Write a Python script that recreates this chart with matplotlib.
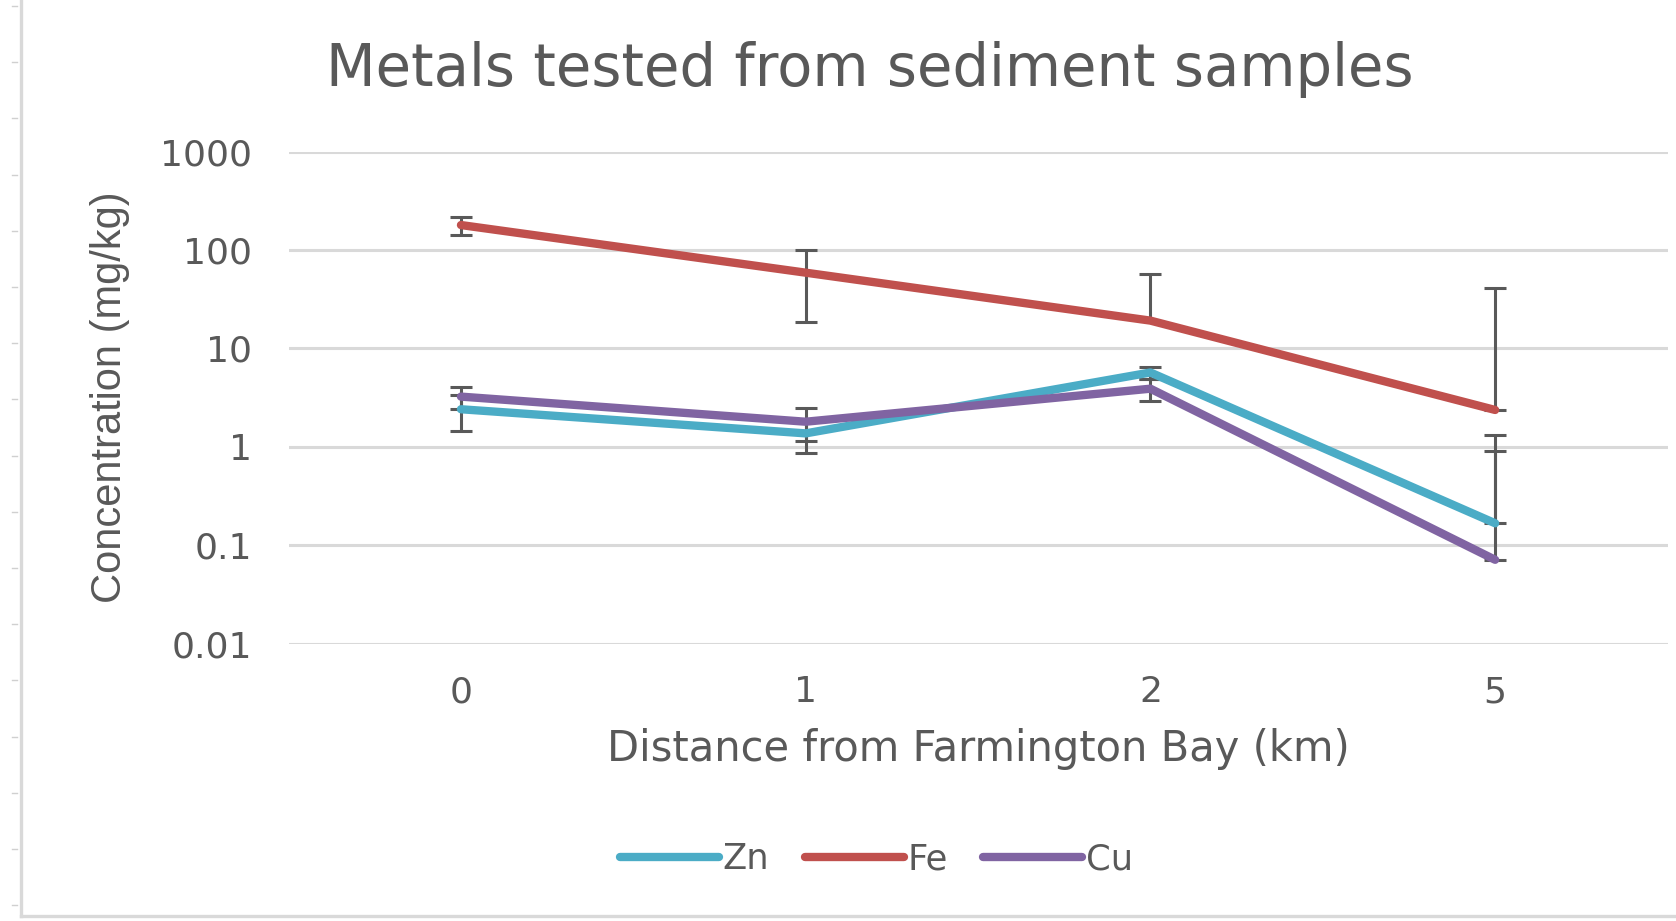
import numpy as np
import matplotlib
matplotlib.use("Agg")
import matplotlib.pyplot as plt
from matplotlib.lines import Line2D

# ---- data ----
distance_labels = ['0', '1', '2', '5']
series_names = ['Zn', 'Fe', 'Cu']
zn = [2.41, 1.37, 5.7, 0.167]
fe = [180, 59, 19.2, 2.37]
cu = [3.24, 1.80, 3.9, 0.071]
zn_err = [0.95, 0.50, 0.85, 1.15]
fe_err = [38, 40.5, 38.6, 38.5]
cu_err = [0.79, 0.66, 1.0, 0.835]
y_ticks = [0.01, 0.1, 1, 10, 100, 1000]
y_tick_labels = ['0.01', '0.1', '1', '10', '100', '1000']

colors = {'Zn': '#4BACC6', 'Fe': '#C0504D', 'Cu': '#8064A2'}
text_color = '#595959'
W, H = 1676, 921

fig = plt.figure(figsize=(W / 100, H / 100), dpi=100)
ax = fig.add_axes([288.6 / W, 1 - 643.5 / H, (1667.5 - 288.6) / W, (643.5 - 151.8) / H])

x = np.arange(len(distance_labels))
values = {'Zn': zn, 'Fe': fe, 'Cu': cu}
errors = {'Zn': zn_err, 'Fe': fe_err, 'Cu': cu_err}

for name in series_names:
    v = np.array(values[name], dtype=float)
    e = np.array(errors[name], dtype=float)
    lower = np.where(e < v, e, 0.0)
    ax.errorbar(x, v, yerr=[lower, e], fmt='none', ecolor=text_color,
                elinewidth=2.2, capsize=7.7, capthick=2.2, zorder=2)

for name in series_names:
    ax.plot(x, values[name], color=colors[name], lw=6, solid_joinstyle='round',
            solid_capstyle='round', zorder=3, label=name)

ax.set_yscale('log')
ax.set_ylim(0.01, 1000)
ax.set_xlim(-0.5, len(distance_labels) - 0.5)
ax.set_yticks(y_ticks)
ax.set_yticklabels(y_tick_labels)
ax.minorticks_off()
ax.set_xticks(x)
ax.set_xticklabels(distance_labels)
ax.yaxis.grid(True, which='major', color='#D9D9D9', lw=2.2)
ax.set_axisbelow(True)
for s in ax.spines.values():
    s.set_visible(False)
ax.tick_params(which='both', length=0)
ax.tick_params(axis='y', pad=26.6, labelsize=26, labelcolor=text_color)
ax.tick_params(axis='x', pad=23, labelsize=26, labelcolor=text_color)

ax.set_xlabel('Distance from Farmington Bay (km)', fontsize=30, color=text_color, va='center')
ax.xaxis.set_label_coords((978 - 288.6) / (1667.5 - 288.6), (643.5 - 749) / (643.5 - 151.8))
ax.set_ylabel('Concentration (mg/kg)', fontsize=30, color=text_color,
              family=['Liberation Sans', 'DejaVu Sans'], va='center', ha='center')
ax.yaxis.set_label_coords((110 - 288.6) / (1667.5 - 288.6), 0.5)

fig.text(869.6 / W, 1 - 70 / H, 'Metals tested from sediment samples', fontsize=41.5,
         color=text_color, ha='center', va='center')

leg = fig.legend(loc='center', bbox_to_anchor=(876.5 / W, 1 - 859 / H), ncol=3,
                 frameon=False, fontsize=25.5, handlelength=2.8, handletextpad=0.1,
                 columnspacing=1.0, borderaxespad=0)
for t in leg.get_texts():
    t.set_color(text_color)

# chart-area border and side ruler
fig.add_artist(Line2D([20.5 / W, 20.5 / W], [1 - 916 / H, 1.0], color='#D9D9D9', lw=2.4))
fig.add_artist(Line2D([20.5 / W, 1.0], [1 - 916 / H, 1 - 916 / H], color='#D9D9D9', lw=2.4))
for yy in np.arange(6, 921, 56.2):
    fig.add_artist(Line2D([11.5 / W, 17 / W], [1 - yy / H, 1 - yy / H], color='#D0D0D0', lw=1))

fig.savefig('out.png', dpi=100)
